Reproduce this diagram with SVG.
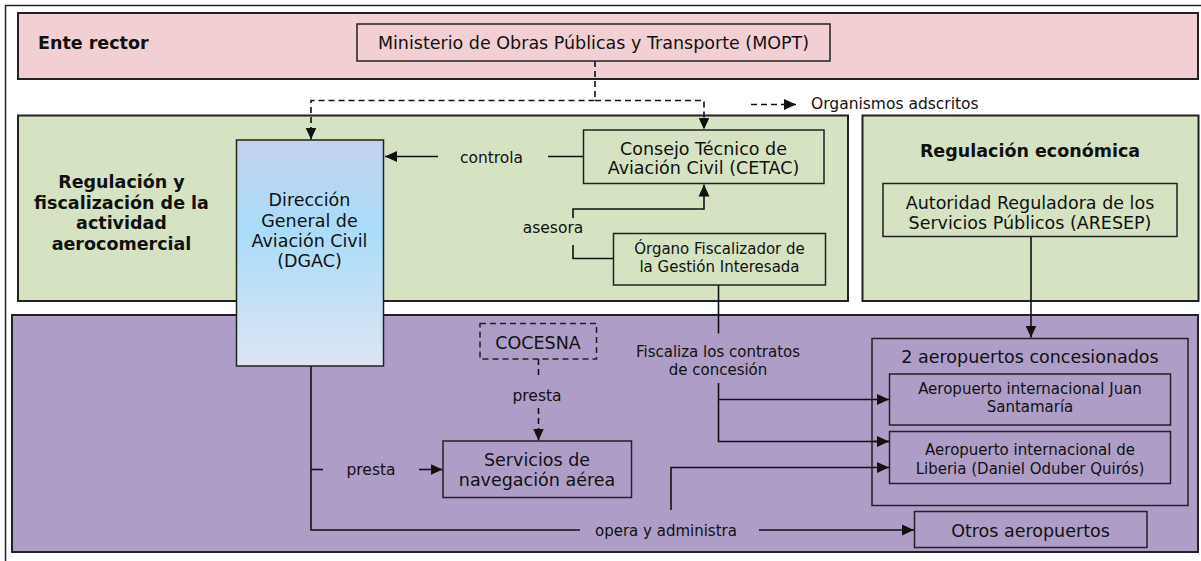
<svg xmlns="http://www.w3.org/2000/svg" width="1201" height="561" viewBox="0 0 1201 561">
<defs>
<style>
.t{font-family:"DejaVu Sans",Verdana,sans-serif;fill:#111;text-anchor:middle}
.st{text-anchor:start}
.m{font-size:17.5px}
.s{font-size:15px}
.b{font-size:17.5px;font-weight:bold}
.l{font-size:15.5px}
.panel{stroke:#222;stroke-width:2}
.box{stroke:#222;stroke-width:1.5}
.c{fill:none;stroke:#111;stroke-width:1.6}
.d{stroke-dasharray:6 4}
</style>
<marker id="a" markerUnits="userSpaceOnUse" markerWidth="13" markerHeight="12" refX="12" refY="6" orient="auto" viewBox="0 0 13 12"><path d="M0,0.5 L12,6 L0,11.5z" fill="#111"/></marker>
<linearGradient id="g" x1="0" y1="0" x2="0" y2="1">
<stop offset="0" stop-color="#c3d2ee"/>
<stop offset="0.4" stop-color="#a9dcf9"/>
<stop offset="1" stop-color="#dde5f3"/>
</linearGradient>
</defs>

<rect x="5.5" y="5.5" width="1200" height="560" fill="none" stroke="#222" stroke-width="1.5"/>

<g id="panel-ente-rector">
<rect class="panel" x="18" y="13" width="1180" height="66" fill="#f2cfd3"/>
<text class="t b st" x="38" y="49">Ente rector</text>
</g>
<g id="panel-regulacion-fiscalizacion">
<rect class="panel" x="18" y="115.5" width="830" height="185.5" fill="#d5e3c3"/>
<text class="t b" x="121.5" y="188">Regulación y</text>
<text class="t b" x="121.5" y="208.5">fiscalización de la</text>
<text class="t b" x="121.5" y="229">actividad</text>
<text class="t b" x="121.5" y="249.5">aerocomercial</text>
</g>
<g id="panel-regulacion-economica">
<rect class="panel" x="862.5" y="115.5" width="336" height="185.5" fill="#d5e3c3"/>
<text class="t b" x="1030" y="157">Regulación económica</text>
</g>
<g id="panel-operacion">
<rect class="panel" x="12" y="315" width="1186" height="237" fill="#ae9dc7"/>
</g>

<g id="connectors">
<path class="c d" d="M595,61 V100.5 H311 V139.5" marker-end="url(#a)"/>
<path class="c d" d="M595,100.5 H704 V129.5" marker-end="url(#a)"/>
<path class="c d" d="M751,104.5 H796" marker-end="url(#a)"/>
<path class="c" d="M583.5,156.5 H548"/>
<path class="c" d="M438,156.5 H385" marker-end="url(#a)"/>
<path class="c" d="M573,218 V209 H704 V184.5" marker-end="url(#a)"/>
<path class="c" d="M573,245 V258.5 H613.5"/>
<path class="c" d="M718.5,285 V333.5"/>
<path class="c" d="M718.5,383 V441.5 H889"/>
<path class="c" d="M718.5,399.5 H889" marker-end="url(#a)"/>
<path class="c" d="M870,441.5 H889" marker-end="url(#a)"/>
<path class="c" d="M1031,237 V337.5" marker-end="url(#a)"/>
<path class="c" d="M311,366 V530 H580"/>
<path class="c" d="M311,469.5 H323"/>
<path class="c" d="M419,469.5 H442.5" marker-end="url(#a)"/>
<path class="c d" d="M538.5,359 V377"/>
<path class="c d" d="M538.5,408 V440.5" marker-end="url(#a)"/>
<path class="c" d="M759,530 H914" marker-end="url(#a)"/>
<path class="c" d="M671,510 V467.5 H889" marker-end="url(#a)"/>
<text class="t l st" x="811" y="109">Organismos adscritos</text>
<text class="t l" x="491.5" y="162.5">controla</text>
<text class="t l" x="553" y="233">asesora</text>
<text class="t s" x="718" y="356.5">Fiscaliza los contratos</text>
<text class="t s" x="718" y="375">de concesión</text>
<text class="t l" x="371" y="475">presta</text>
<text class="t l" x="537" y="400.5">presta</text>
<text class="t s st" x="595" y="536">opera y administra</text>
</g>

<g id="mopt">
<rect class="box" x="357" y="24" width="473" height="37" fill="#f2cfd3"/>
<text class="t m" x="593.5" y="48.5">Ministerio de Obras Públicas y Transporte (MOPT)</text>
</g>
<g id="dgac">
<rect class="box" x="236.5" y="140" width="147" height="226" fill="url(#g)"/>
<text class="t m" x="309.5" y="206">Dirección</text>
<text class="t m" x="309.5" y="226.5">General de</text>
<text class="t m" x="309.5" y="247">Aviación Civil</text>
<text class="t m" x="309.5" y="267">(DGAC)</text>
</g>
<g id="cetac">
<rect class="box" x="583.5" y="130" width="240.5" height="53.5" fill="#d5e3c3"/>
<text class="t m" x="703.5" y="154.5">Consejo Técnico de</text>
<text class="t m" x="703.5" y="174">Aviación Civil (CETAC)</text>
</g>
<g id="organo-fiscalizador">
<rect class="box" x="613.5" y="233.5" width="212" height="51.5" fill="#d5e3c3"/>
<text class="t s" x="719.5" y="253.5">Órgano Fiscalizador de</text>
<text class="t s" x="719.5" y="272">la Gestión Interesada</text>
</g>
<g id="aresep">
<rect class="box" x="883" y="183.5" width="294" height="53" fill="#d5e3c3"/>
<text class="t m" x="1030" y="208.5">Autoridad Reguladora de los</text>
<text class="t m" x="1030" y="228.5">Servicios Públicos (ARESEP)</text>
</g>
<g id="cocesna">
<rect class="box d" x="480" y="323.5" width="116.5" height="35.5" fill="none"/>
<text class="t m" x="538" y="349">COCESNA</text>
</g>
<g id="servicios-navegacion">
<rect class="box" x="443" y="441" width="188.5" height="56.5" fill="none"/>
<text class="t m" x="537" y="466">Servicios de</text>
<text class="t m" x="537" y="486">navegación aérea</text>
</g>
<g id="aeropuertos-concesionados">
<rect class="box" x="872" y="338.5" width="316" height="167" fill="none"/>
<text class="t m" x="1030" y="363">2 aeropuertos concesionados</text>
</g>
<g id="juan-santamaria">
<rect class="box" x="889.5" y="374" width="281" height="51" fill="none"/>
<text class="t s" x="1030" y="393.5">Aeropuerto internacional Juan</text>
<text class="t s" x="1030" y="412">Santamaría</text>
</g>
<g id="liberia">
<rect class="box" x="889.5" y="431.5" width="281" height="52" fill="none"/>
<text class="t s" x="1030" y="455">Aeropuerto internacional de</text>
<text class="t s" x="1030" y="473.5">Liberia (Daniel Oduber Quirós)</text>
</g>
<g id="otros-aeropuertos">
<rect class="box" x="914.5" y="511.5" width="232.5" height="36" fill="none"/>
<text class="t m" x="1030.5" y="536.5">Otros aeropuertos</text>
</g>
</svg>
